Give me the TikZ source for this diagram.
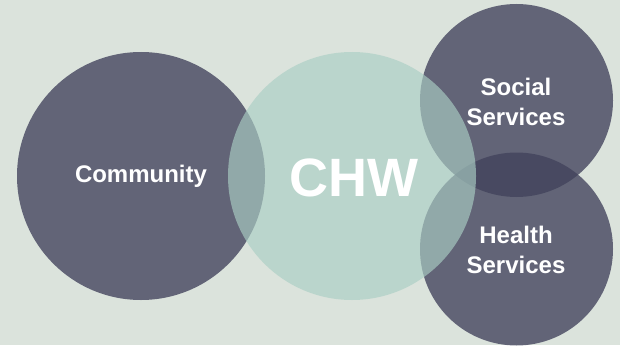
\documentclass[tikz,border=0pt]{standalone}
\usepackage{fontspec}
\setmainfont{Liberation Sans}
\definecolor{bgc}{RGB}{219,227,220}
\definecolor{darkc}{RGB}{66,67,92}
\definecolor{tealc}{RGB}{170,206,196}
\begin{document}
\begin{tikzpicture}[x=1pt,y=-1pt,
  darkcirc/.style={circle,fill=darkc,fill opacity=0.79,draw=none,inner sep=0pt},
  tealcirc/.style={circle,fill=tealc,fill opacity=0.66,draw=none,inner sep=0pt},
  lbl/.style={text=white,font=\bfseries\fontsize{24}{30}\selectfont,anchor=base,align=center,inner sep=0pt}]
\fill[bgc] (0,0) rectangle (620,345);
\useasboundingbox (0,0) rectangle (620,345);
\node[darkcirc,minimum size=248pt] (community) at (141,176) {};
\node[darkcirc,minimum size=193pt] (social) at (516.5,100.5) {};
\node[darkcirc,minimum size=193pt] (health) at (516.5,249) {};
\node[tealcirc,minimum size=248pt] (chw) at (352,176) {};
\node[lbl] (tcommunity) at (141,182.7) {Community};
\node[lbl,font=\bfseries\fontsize{54}{60}\selectfont] (tchw) at (354,196) {CHW};
\node[lbl] (tsocial) at (516,95) {Social};
\node[lbl] (tsocial2) at (516,125) {Services};
\node[lbl] (thealth) at (516,243) {Health};
\node[lbl] (thealth2) at (516,273) {Services};
\end{tikzpicture}
\end{document}
